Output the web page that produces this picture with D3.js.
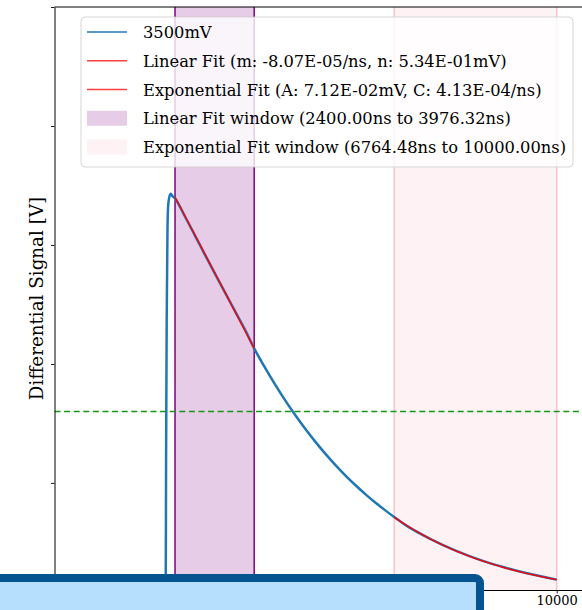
<!DOCTYPE html>
<html>
<head>
<meta charset="utf-8">
<script src="https://cdn.jsdelivr.net/npm/d3@7"></script>
<style>
  html, body { margin: 0; padding: 0; background: #fff; overflow: hidden; }
  svg { display: block; }
  text { font-family: "DejaVu Serif", "Liberation Serif", serif; fill: #000; }
</style>
</head>
<body>
<svg id="chart" width="582" height="610"></svg>
<script>
// Recorded pulse (time in ns, differential signal in V)
const sigTime = [0, 1000, 2000, 2200, 2214, 2222, 2234, 2250, 2262, 2285, 2314, 2350, 2400,
  2600, 2800, 3000, 3200, 3400, 3600, 3800, 3976, 4200, 4400, 4600, 4800, 5000, 5200,
  5400, 5600, 5800, 6000, 6200, 6400, 6600, 6764, 7000, 7500, 8000, 8500, 9000, 9500, 10000];
const sigVolt = [0.001, 0.001, 0.001, 0.002, 0.006, 0.120, 0.237, 0.313, 0.332, 0.340, 0.343, 0.341, 0.339,
  0.3237, 0.3077, 0.2915, 0.2755, 0.2597, 0.2440, 0.2283, 0.2131, 0.1962, 0.1822, 0.1690, 0.1567, 0.1451, 0.1343,
  0.1242, 0.1148, 0.1060, 0.0978, 0.0902, 0.0831, 0.0765, 0.0713, 0.0643, 0.0526, 0.0429, 0.0349, 0.0285, 0.0232, 0.0187];

// Fit results
const linearFit = [-8.07e-5, 5.34e-1];          // m [V/ns], n [V]
const expFit = [7.12e-2, 4.13e-4];              // A [V], C [1/ns]
const linearWindow = [2400.00, 3976.32];         // ns
const expWindow = [6764.48, 10000.00];           // ns
const threshold = [0.16];                        // V
const seriesName = ["3500mV"];
const xTicks = [0, 2000, 4000, 6000, 8000, 10000];
const yTicks = [0.1, 0.2, 0.3, 0.4, 0.5];

const sci = v => v.toExponential(2).toUpperCase().replace(/E([+-])(\d)$/, "E$10$2");
const fx = v => v.toFixed(2);

const svg = d3.select("#chart");
const plotLeft = 54.5, plotTop = 7, plotBottom = 590;
const x = d3.scaleLinear().domain([0, 11000]).range([plotLeft, plotLeft + 11000 * 0.05022]);
const y = d3.scaleLinear().domain([0.01, 0.5]).range([plotBottom, plotTop]);

svg.append("defs").append("clipPath").attr("id", "plotclip")
  .append("rect").attr("x", plotLeft).attr("y", plotTop).attr("width", 600).attr("height", plotBottom - plotTop);

const plot = svg.append("g").attr("clip-path", "url(#plotclip)");

// Fit windows
plot.append("rect")
  .attr("x", x(linearWindow[0])).attr("y", plotTop)
  .attr("width", x(linearWindow[1]) - x(linearWindow[0])).attr("height", plotBottom - plotTop)
  .attr("fill", "purple").attr("fill-opacity", 0.2);
plot.append("rect")
  .attr("x", x(expWindow[0])).attr("y", plotTop)
  .attr("width", x(expWindow[1]) - x(expWindow[0])).attr("height", plotBottom - plotTop)
  .attr("fill", "pink").attr("fill-opacity", 0.2);
linearWindow.forEach(t => plot.append("line")
  .attr("x1", x(t)).attr("x2", x(t)).attr("y1", plotTop).attr("y2", plotBottom)
  .attr("stroke", "purple").attr("stroke-width", 1.5));
expWindow.forEach(t => plot.append("line")
  .attr("x1", x(t)).attr("x2", x(t)).attr("y1", plotTop).attr("y2", plotBottom)
  .attr("stroke", "pink").attr("stroke-width", 1.5));

// Threshold
plot.append("line")
  .attr("x1", plotLeft).attr("x2", 600).attr("y1", y(threshold[0])).attr("y2", y(threshold[0]))
  .attr("stroke", "#119911").attr("stroke-width", 1.5).attr("stroke-dasharray", "6,3.6");

// Signal trace
const sig = sigTime.map((t, i) => [t, sigVolt[i]]);
plot.append("path").datum(sig)
  .attr("fill", "none").attr("stroke", "#1f77b4").attr("stroke-width", 2.5)
  .attr("stroke-linejoin", "round")
  .attr("d", d3.line().x(d => x(d[0])).y(d => y(d[1])).curve(d3.curveMonotoneX));

// Linear fit line
const linPts = linearWindow.map(t => [t, linearFit[0] * t + linearFit[1]]);
plot.append("path").datum(linPts)
  .attr("fill", "none").attr("stroke", "red").attr("stroke-width", 1.4)
  .attr("d", d3.line().x(d => x(d[0])).y(d => y(d[1])));

// Exponential fit line
const expPts = d3.range(0, 101).map(k => {
  const t = expWindow[0] + (expWindow[1] - expWindow[0]) * k / 100;
  return [t, expFit[0] * Math.exp(-expFit[1] * (t - expWindow[0]))];
});
plot.append("path").datum(expPts)
  .attr("fill", "none").attr("stroke", "red").attr("stroke-width", 1.4)
  .attr("d", d3.line().x(d => x(d[0])).y(d => y(d[1])));

// Axes
const yAxis = svg.append("g").attr("transform", `translate(${plotLeft},0)`)
  .call(d3.axisLeft(y).tickValues(yTicks).tickFormat("").tickSize(3.5).tickSizeOuter(0));
const xAxis = svg.append("g").attr("transform", `translate(0,${plotBottom})`)
  .call(d3.axisBottom(x).tickValues(xTicks).tickFormat(d3.format("d")).tickSize(3.5).tickSizeOuter(0));
[yAxis, xAxis].forEach(a => {
  a.select(".domain").attr("stroke", "#000").attr("stroke-width", 1);
  a.selectAll(".tick line").attr("stroke", "#000").attr("stroke-width", 0.9);
});
xAxis.selectAll(".tick text").attr("dy", "0.71em").attr("y", 6)
  .style("font-family", "DejaVu Serif, serif").style("font-size", "13px");
svg.append("line").attr("x1", plotLeft).attr("x2", 600).attr("y1", plotTop).attr("y2", plotTop)
  .attr("stroke", "#000").attr("stroke-width", 1);

svg.append("text")
  .attr("transform", `translate(43,${(plotTop + plotBottom) / 2}) rotate(-90)`)
  .attr("text-anchor", "middle").style("font-size", "18.3px")
  .text("Differential Signal [V]");

// Legend
const legend = svg.append("g");
legend.append("rect").attr("x", 81).attr("y", 17).attr("width", 492).attr("height", 150)
  .attr("rx", 4).attr("fill", "#fff").attr("fill-opacity", 0.8)
  .attr("stroke", "#ccc").attr("stroke-opacity", 0.8);
const entries = [
  {type: "line", color: "#1f77b4", label: seriesName[0]},
  {type: "line", color: "red", label: `Linear Fit (m: ${sci(linearFit[0])}/ns, n: ${sci(linearFit[1])}mV)`},
  {type: "line", color: "red", label: `Exponential Fit (A: ${sci(expFit[0])}mV, C: ${sci(expFit[1])}/ns)`},
  {type: "patch", color: "purple", label: `Linear Fit window (${fx(linearWindow[0])}ns to ${fx(linearWindow[1])}ns)`},
  {type: "patch", color: "pink", label: `Exponential Fit window (${fx(expWindow[0])}ns to ${fx(expWindow[1])}ns)`}
];
entries.forEach((e, i) => {
  const cy = 32 + i * 28.75;
  if (e.type === "line") {
    legend.append("line").attr("x1", 87).attr("x2", 127).attr("y1", cy).attr("y2", cy)
      .attr("stroke", e.color).attr("stroke-width", 1.5).attr("stroke-opacity", e.color === "red" ? 0.75 : 1);
  } else {
    legend.append("rect").attr("x", 87).attr("y", cy - 7.5).attr("width", 40).attr("height", 15)
      .attr("fill", e.color).attr("fill-opacity", 0.2);
  }
  legend.append("text").attr("x", 143).attr("y", cy + 6).style("font-size", "16.3px").text(e.label);
});

// Overlay panel along the bottom edge
svg.append("rect").attr("x", -20).attr("y", 578).attr("width", 500).attr("height", 60)
  .attr("rx", 5).attr("fill", "#b6defd").attr("stroke", "#05538f").attr("stroke-width", 8);
</script>
</body>
</html>
